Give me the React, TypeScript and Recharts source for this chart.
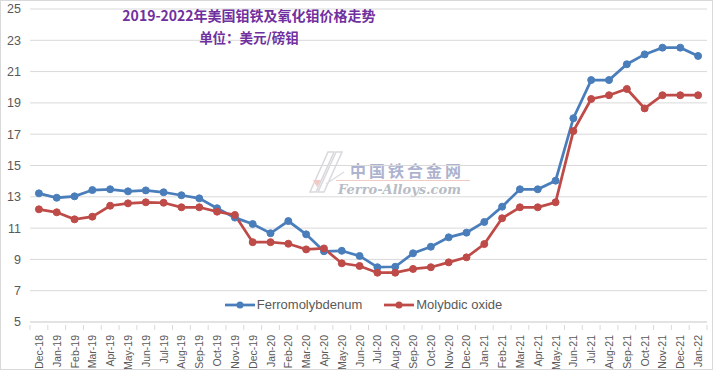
import React from "react";
import { LineChart, Line, XAxis, YAxis, CartesianGrid, Legend } from "recharts";

const months = [
  "Dec-18","Jan-19","Feb-19","Mar-19","Apr-19","May-19","Jun-19","Jul-19","Aug-19","Sep-19","Oct-19","Nov-19","Dec-19",
  "Jan-20","Feb-20","Mar-20","Apr-20","May-20","Jun-20","Jul-20","Aug-20","Sep-20","Oct-20","Nov-20","Dec-20",
  "Jan-21","Feb-21","Mar-21","Apr-21","May-21","Jun-21","Jul-21","Aug-21","Sep-21","Oct-21","Nov-21","Dec-21","Jan-22",
];

const ferromolybdenum = [
  13.22, 12.94, 13.03, 13.43, 13.48, 13.35, 13.41, 13.29, 13.1, 12.9, 12.27, 11.67, 11.26,
  10.67, 11.45, 10.6, 9.52, 9.55, 9.22, 8.5, 8.53, 9.39, 9.81, 10.41, 10.71,
  11.39, 12.37, 13.48, 13.48, 14.03, 18.02, 20.46, 20.46, 21.47, 22.1, 22.53, 22.53, 22.0,
];

const molybdicOxide = [
  12.2, 12.01, 11.56, 11.73, 12.43, 12.58, 12.65, 12.62, 12.33, 12.33, 12.05, 11.84, 10.1,
  10.1, 10.0, 9.64, 9.7, 8.75, 8.58, 8.15, 8.15, 8.39, 8.5, 8.81, 9.13,
  9.98, 11.63, 12.33, 12.33, 12.65, 17.2, 19.25, 19.49, 19.89, 18.65, 19.49, 19.49, 19.49,
];

const yTicks = [5, 7, 9, 11, 13, 15, 17, 19, 21, 23, 25];

const seriesNames = ["Ferromolybdenum", "Molybdic oxide"];
const titleLine1 = "2019-2022年美国钼铁及氧化钼价格走势";
const titleLine2 = "单位：美元/磅钼";

const data = months.map((m, i) => ({
  month: m,
  fe: ferromolybdenum[i],
  mo: molybdicOxide[i],
}));

const BLUE = "#4A7EBB";
const RED = "#BE4B48";
const FONT = "'Liberation Sans', Arial, sans-serif";

const XTick = (props: any) => {
  const { x, y, payload, index, visibleTicksCount } = props;
  const half = payload && payload.offset ? payload.offset : 8.9;
  const ty = y + 5;
  return (
    <g>
      <line x1={x - half} x2={x - half} y1={y - 5} y2={y} stroke="#D9D9D9" />
      {index === (visibleTicksCount ?? months.length) - 1 && (
        <line x1={x + half} x2={x + half} y1={y - 5} y2={y} stroke="#D9D9D9" />
      )}
      <text
        x={x}
        y={ty}
        dy={4}
        transform={`rotate(-90, ${x}, ${ty})`}
        textAnchor="end"
        fontSize={10.5}
        fill="#595959"
        fontFamily={FONT}
      >
        {payload.value}
      </text>
    </g>
  );
};

const LegendContent = () => {
  const items = [
    { name: seriesNames[0], color: BLUE },
    { name: seriesNames[1], color: RED },
  ];
  return (
    <div
      style={{
        display: "flex",
        justifyContent: "center",
        alignItems: "center",
        paddingLeft: 14,
        fontFamily: FONT,
        fontSize: 13,
        color: "#595959",
        height: 18,
        lineHeight: "18px",
      }}
    >
      {items.map((it, i) => (
        <div key={it.name} style={{ display: "flex", alignItems: "center", marginLeft: i ? 22 : 0 }}>
          <svg width={30} height={10} style={{ marginRight: 2 }}>
            <line x1={0} x2={30} y1={5} y2={5} stroke={it.color} strokeWidth={2.75} />
            <circle cx={15} cy={5} r={3.5} fill={it.color} />
          </svg>
          <span>{it.name}</span>
        </div>
      ))}
    </div>
  );
};

export default function App() {
  return (
    <div
      style={{
        position: "absolute",
        left: 0,
        top: 0,
        width: 713,
        height: 370,
        background: "#fff",
        overflow: "hidden",
      }}
    >
      {/* watermark */}
      <div
        style={{
          position: "absolute",
          left: 300,
          top: 148,
          width: 180,
          height: 50,
          opacity: 0.6,
          pointerEvents: "none",
        }}
      >
        <svg width={50} height={48} style={{ position: "absolute", left: 0, top: 0 }}>
          <path d="M10 44 L28 4 L34 4 L16 44 Z" fill="none" stroke="#C0C0C8" strokeWidth={1.5} />
          <path d="M18 44 L36 4 L42 4 L24 44 Z" fill="none" stroke="#C0C0C8" strokeWidth={1.5} />
          <path d="M26 36 L44 24" stroke="#C8C8D0" strokeWidth={1.5} />
          <path d="M13 32 L21 32 L17 39 Z" fill="#E8A8A0" />
        </svg>
        <div
          style={{
            position: "absolute",
            left: 50,
            top: 13,
            fontFamily: "'Noto Sans CJK SC', sans-serif",
            fontSize: 16,
            fontWeight: "bold",
            letterSpacing: 3,
            color: "#7880B0",
            lineHeight: "18px",
            whiteSpace: "nowrap",
          }}
        >
          中国铁合金网
        </div>
        <div
          style={{
            position: "absolute",
            left: 36,
            top: 32,
            width: 134,
            height: 1,
            background: "#E8A8A0",
          }}
        />
        <div
          style={{
            position: "absolute",
            left: 38,
            top: 34,
            fontFamily: "'DejaVu Serif', 'Liberation Serif', serif",
            fontStyle: "italic",
            fontWeight: "bold",
            fontSize: 13,
            color: "#8890A0",
            lineHeight: "15px",
            whiteSpace: "nowrap",
          }}
        >
          Ferro-Alloys.com
        </div>
      </div>

      <div style={{ position: "absolute", left: 0, top: 0 }}>
        <LineChart
          width={713}
          height={370}
          data={data}
          margin={{ top: 9, right: 6, bottom: 3, left: 0 }}
        >
          <CartesianGrid vertical={false} stroke="#D9D9D9" strokeWidth={1} />
          <XAxis
            dataKey="month"
            scale="band"
            interval={0}
            height={45}
            tickLine={false}
            axisLine={{ stroke: "#D9D9D9" }}
            tick={<XTick />}
          />
          <YAxis
            domain={[5, 25]}
            ticks={yTicks}
            width={30}
            axisLine={false}
            tickLine={false}
            tickSize={0}
            tickMargin={9}
            interval={0}
            tick={{ fontSize: 12.5, fill: "#595959", fontFamily: FONT }}
          />
          <Legend
            verticalAlign="middle"
            layout="horizontal"
            wrapperStyle={{ top: 296, left: 0, width: 713 }}
            content={<LegendContent />}
          />
          <Line
            type="linear"
            dataKey="fe"
            name={seriesNames[0]}
            stroke={BLUE}
            strokeWidth={2.75}
            dot={{ r: 3.5, fill: BLUE, stroke: BLUE, strokeWidth: 1 }}
            isAnimationActive={false}
          />
          <Line
            type="linear"
            dataKey="mo"
            name={seriesNames[1]}
            stroke={RED}
            strokeWidth={2.75}
            dot={{ r: 3.5, fill: RED, stroke: RED, strokeWidth: 1 }}
            isAnimationActive={false}
          />
        </LineChart>
      </div>

      {/* title */}
      <div
        style={{
          position: "absolute",
          left: 0,
          top: 5,
          width: 498,
          textAlign: "center",
          fontFamily: "'Noto Sans CJK SC', sans-serif",
          fontWeight: "bold",
          color: "#7030A0",
          pointerEvents: "none",
        }}
      >
        <div style={{ fontSize: 14, lineHeight: "21px" }}>{titleLine1}</div>
        <div style={{ fontSize: 13.5, lineHeight: "22px" }}>{titleLine2}</div>
      </div>

      <div
        style={{
          position: "absolute",
          left: 0,
          top: 0,
          width: 713,
          height: 370,
          boxSizing: "border-box",
          border: "1px solid #D9D9D9",
          pointerEvents: "none",
        }}
      />
    </div>
  );
}
